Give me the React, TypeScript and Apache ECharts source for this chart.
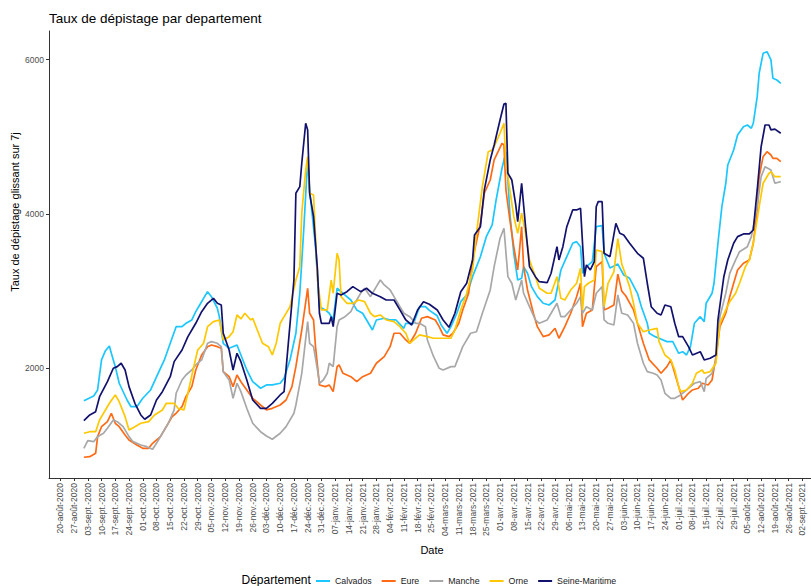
import React, { useEffect, useRef } from "react";
import * as echarts from "echarts";

// x values are day offsets from 20-août-2020 (first x tick)
const tickLabels = [
  "20-août-2020", "27-août-2020", "03-sept.-2020", "10-sept.-2020", "17-sept.-2020", "24-sept.-2020",
  "01-oct.-2020", "08-oct.-2020", "15-oct.-2020", "22-oct.-2020", "29-oct.-2020",
  "05-nov.-2020", "12-nov.-2020", "19-nov.-2020", "26-nov.-2020",
  "03-déc.-2020", "10-déc.-2020", "17-déc.-2020", "24-déc.-2020", "31-déc.-2020",
  "07-janv.-2021", "14-janv.-2021", "21-janv.-2021", "28-janv.-2021",
  "04-févr.-2021", "11-févr.-2021", "18-févr.-2021", "25-févr.-2021",
  "04-mars-2021", "11-mars-2021", "18-mars-2021", "25-mars-2021",
  "01-avr.-2021", "08-avr.-2021", "15-avr.-2021", "22-avr.-2021", "29-avr.-2021",
  "06-mai-2021", "13-mai-2021", "20-mai-2021", "27-mai-2021",
  "03-juin-2021", "10-juin-2021", "17-juin-2021", "24-juin-2021",
  "01-juil.-2021", "08-juil.-2021", "15-juil.-2021", "22-juil.-2021", "29-juil.-2021",
  "05-août-2021", "12-août-2021", "19-août-2021", "26-août-2021", "02-sept.-2021",
];
const tickDays = tickLabels.map((_, i) => i * 7);
const yTicks = [2000, 4000, 6000];
const yTickLabels = ["2000", "4000", "6000"];

const calvadosDays = [12,17,19,21,23,25,26,28,30,34,36,39,42,46,50,53,56,59,62,64,67,69,71,75,77,80,81,83,86,90,92,95,98,102,105,108,112,114,117,120,122,124,126,127,130,132,135,137,139,141,144,148,151,154,157,159,161,165,168,171,175,176,180,183,186,188,192,194,197,199,202,204,207,210,214,217,220,222,225,227,228,229,231,233,235,236,238,240,243,246,249,252,254,255,258,261,263,265,266,268,271,273,276,277,280,284,287,290,294,296,299,300,303,305,309,312,315,317,319,321,323,326,328,329,332,333,335,337,339,340,343,345,348,350,352,353,355,356,358,360,362,363,365,367];
const calvadosValues = [1580,1641,1719,2108,2228,2289,2194,2021,1806,1589,1502,1502,1611,1719,1943,2108,2324,2539,2539,2583,2626,2734,2820,2993,2928,2778,2669,2324,2259,2302,2172,1978,1827,1741,1784,1784,1806,1870,2108,2454,2972,3792,4700,4311,3576,2798,2756,2713,2626,3037,2972,2885,2756,2713,2583,2496,2626,2648,2626,2626,2518,2583,2583,2798,2798,2750,2680,2561,2454,2539,2713,2863,2950,3187,3446,3706,3857,4181,4592,4807,4440,4009,3490,3144,3166,3317,3231,3058,2928,2842,2820,2885,3144,3274,3446,3620,3641,3576,3231,3317,3382,3835,3848,3490,3300,3350,3209,3166,2972,2798,2583,2454,2410,2389,2345,2345,2194,2215,2172,2280,2583,2669,2604,2842,2972,3102,3620,4094,4398,4635,4829,5024,5131,5153,5110,5175,5520,5823,6082,6103,5996,5758,5736,5693];

const eureDays = [12,15,18,19,21,24,26,28,30,33,35,39,42,45,47,51,54,57,59,62,64,67,69,72,75,77,80,82,83,86,88,90,92,95,98,102,105,108,112,115,118,120,123,126,127,129,130,132,135,137,139,141,142,144,148,151,154,158,161,165,168,170,173,176,178,181,184,187,191,193,195,198,200,203,205,208,210,214,216,219,221,223,225,226,227,229,231,233,235,236,238,241,243,246,249,252,254,257,260,263,265,266,268,271,273,276,277,279,282,284,286,288,292,294,297,300,304,306,309,311,313,316,317,320,322,325,327,330,332,334,336,339,341,343,345,348,351,353,355,356,358,360,362,363,365,367];
const eureValues = [847,854,898,1114,1243,1308,1417,1287,1243,1136,1071,1006,963,963,1028,1114,1243,1373,1417,1503,1632,1762,1978,2172,2280,2302,2280,2259,1956,1891,1762,1913,1826,1719,1611,1524,1460,1481,1524,1589,1762,2021,2496,3037,2713,2626,2280,1784,1762,1784,1697,2021,2043,1935,1891,1826,1891,1935,2065,2151,2280,2454,2454,2367,2324,2454,2648,2669,2626,2539,2432,2410,2454,2583,2756,2972,3404,3879,4268,4440,4700,4807,4916,4894,4311,3922,3576,3274,3835,3317,3015,2713,2539,2410,2432,2518,2389,2539,2713,2928,3102,2539,2713,2756,3317,3382,2756,2778,2820,3220,3000,2940,2756,2583,2324,2108,2000,1935,2021,2108,1935,1676,1589,1676,1719,1741,1806,1784,1848,2151,2539,2713,2928,3102,3274,3361,3404,3620,4052,4483,4742,4807,4764,4721,4721,4678];

const mancheDays = [12,14,17,19,22,24,27,29,32,35,37,41,44,47,49,52,55,58,59,62,64,67,69,72,75,77,80,82,83,86,88,90,92,95,98,102,105,108,112,115,119,120,123,126,127,129,131,132,134,136,137,139,141,142,145,148,150,153,155,158,159,161,163,165,168,170,173,175,178,181,183,186,187,190,193,195,199,201,203,205,209,212,215,219,221,224,226,228,230,232,235,236,239,242,244,248,250,253,255,257,260,263,265,266,268,271,273,276,277,279,282,284,286,289,292,294,297,299,302,304,306,308,311,313,316,318,321,323,326,328,329,332,334,336,339,341,344,346,350,352,355,357,359,362,363,364,367];
const mancheValues = [963,1062,1049,1114,1158,1222,1330,1308,1243,1114,1049,1006,984,950,1028,1158,1287,1460,1676,1848,1913,1978,2043,2108,2324,2345,2324,2280,1956,1848,1611,1806,1697,1481,1287,1178,1123,1080,1158,1243,1417,1524,1935,2604,2324,2280,1978,1806,1848,1935,2065,2021,2539,2626,2669,2734,2842,2972,3037,2928,2972,3058,3144,3080,3015,2928,2798,2713,2669,2583,2583,2539,2367,2160,2000,1978,2021,2021,2151,2280,2454,2474,2713,3015,3317,3685,3815,3187,3102,2885,3144,2972,2798,2626,2583,2626,2713,2842,2669,2669,2756,2842,2928,2713,2798,2756,2972,3058,2626,2583,2561,2950,2713,2691,2583,2324,2065,1956,1935,1913,1848,1676,1611,1611,1654,1697,1762,1806,1827,1697,1870,1935,2108,2669,2972,3231,3404,3511,3576,3706,4094,4483,4613,4570,4483,4398,4419];

const orneDays = [12,15,18,20,23,25,28,30,33,35,38,41,45,48,52,54,58,60,63,65,68,70,73,75,78,81,83,86,88,90,92,94,97,98,101,103,106,108,110,112,114,117,120,122,123,125,126,127,129,130,131,133,136,138,139,141,142,143,146,149,152,155,158,160,163,166,170,173,176,178,180,183,187,190,193,199,201,204,207,210,212,215,218,220,221,224,226,227,229,231,233,235,237,239,242,244,248,250,253,255,257,260,263,265,266,267,269,272,273,276,277,279,282,284,286,288,290,292,294,297,300,304,305,308,311,313,315,316,319,322,324,327,328,331,334,336,339,341,344,346,349,351,353,356,358,361,362,364,367];
const orneValues = [1158,1178,1178,1330,1460,1546,1654,1567,1373,1200,1243,1287,1308,1395,1460,1546,1546,1481,1460,1676,2021,2237,2324,2539,2604,2626,2367,2410,2474,2691,2640,2713,2626,2648,2454,2324,2280,2172,2324,2583,2669,2798,3144,3317,4009,4570,4742,4268,4246,3706,3144,2756,2756,3144,2972,3490,3404,2928,2842,2842,2885,2863,2713,2669,2691,2626,2604,2539,2454,2324,2367,2432,2410,2389,2389,2389,2496,2756,2972,3274,3750,4354,4807,4829,4872,5046,5175,4657,4311,3965,3750,4009,3750,3404,3187,3037,2972,2972,3187,2907,2885,3015,3102,3296,2756,3058,3102,3144,3533,3511,2800,3100,3250,3680,3350,3209,3058,2842,2583,2474,2496,2518,2345,2172,2108,1978,1762,1697,1719,1806,1935,1978,1935,1956,2065,2583,2756,2863,2972,3102,3317,3404,3620,4094,4398,4527,4548,4483,4483];

const seineMaritimeDays = [12,15,18,20,24,27,29,31,33,35,38,41,43,46,49,52,56,58,62,65,69,72,75,78,80,82,83,86,88,90,92,95,98,102,105,108,112,114,116,119,120,122,123,125,126,127,129,131,132,133,137,138,139,141,143,146,149,153,156,159,163,166,170,173,176,179,182,185,188,192,195,198,201,204,207,210,211,214,216,219,221,224,226,227,228,230,232,233,235,237,239,242,244,248,250,253,254,256,258,261,263,265,267,268,270,272,273,274,276,277,280,283,285,287,290,294,297,299,301,304,306,308,311,313,315,317,320,322,326,328,331,334,335,338,340,343,345,348,351,353,355,357,359,361,362,364,367];
const seineMaritimeValues = [1321,1395,1438,1632,1826,2000,2021,2065,1978,1762,1546,1395,1339,1395,1589,1697,1891,2086,2237,2410,2583,2734,2842,2907,2842,2820,2454,2237,1978,2194,2086,1848,1589,1481,1481,1546,1654,1697,2280,3144,4268,4354,4657,5175,5089,4268,3965,3274,2713,2583,2583,2669,2539,2972,2950,2993,3058,2993,3037,2972,2928,2885,2885,2756,2626,2561,2756,2863,2830,2756,2626,2531,2713,2993,3102,3404,3728,3835,4311,4700,4894,5218,5425,5434,4527,4440,4117,3900,4398,3835,3317,3187,3122,3109,3231,3576,3404,3576,3835,4052,4052,4074,3187,3339,3274,3382,4094,4159,4159,3490,3446,3879,3750,3728,3620,3490,3426,3102,2798,2713,2691,2820,2798,2583,2410,2410,2280,2172,2215,2108,2130,2172,2626,3187,3404,3620,3706,3741,3741,3792,4311,4872,5153,5153,5089,5100,5046];

const seriesNames = ["Calvados", "Eure", "Manche", "Orne", "Seine-Maritime"];
const seriesColors = ["#1CC6FF", "#FF6A14", "#A8A8A8", "#FFC800", "#12126E"];
const seriesDays = [calvadosDays, eureDays, mancheDays, orneDays, seineMaritimeDays];
const seriesValues = [calvadosValues, eureValues, mancheValues, orneValues, seineMaritimeValues];

const FONT = "'Liberation Sans', Arial, sans-serif";

export default function App() {
  const ref = useRef<HTMLDivElement>(null);
  useEffect(() => {
    if (!ref.current) return;
    const chart = echarts.init(ref.current, null, { renderer: "svg" });
    const series = seriesNames.map((name, k) => ({
      name,
      type: "line",
      data: seriesDays[k].map((d, i) => [d, seriesValues[k][i]]),
      symbol: "none",
      showSymbol: false,
      silent: true,
      lineStyle: { width: 1.7, color: seriesColors[k] },
      itemStyle: { color: seriesColors[k] },
      z: 2 + k,
    }));
    chart.setOption({
      animation: false,
      grid: { left: 49, right: 0, top: 31, bottom: 108, containLabel: false },
      xAxis: {
        type: "value",
        min: -5.76,
        max: 382.4,
        axisLine: { show: true, onZero: false, lineStyle: { color: "#333333", width: 1 } },
        axisTick: { show: true, length: 3, customValues: tickDays, lineStyle: { color: "#333333" } },
        axisLabel: {
          customValues: tickDays,
          rotate: 90,
          margin: 5,
          fontSize: 8.5,
          color: "#4D4D4D",
          fontFamily: FONT,
          formatter: (v: number) => tickLabels[Math.round(v / 7)] ?? "",
        },
        splitLine: { show: false },
      },
      yAxis: {
        type: "value",
        min: 578,
        max: 6371,
        axisLine: { show: true, onZero: false, lineStyle: { color: "#333333", width: 1 } },
        axisTick: { show: true, length: 3, customValues: yTicks, lineStyle: { color: "#333333" } },
        axisLabel: {
          customValues: yTicks,
          margin: 5,
          fontSize: 8.5,
          color: "#4D4D4D",
          fontFamily: FONT,
          formatter: (v: number) => {
            const i = yTicks.indexOf(Math.round(v));
            return i >= 0 ? yTickLabels[i] : "";
          },
        },
        splitLine: { show: false },
      },
      legend: {
        show: true,
        data: seriesNames,
        left: 316,
        top: 575,
        orient: "horizontal",
        icon: "rect",
        itemWidth: 14,
        itemHeight: 2,
        itemGap: 10,
        padding: 0,
        textStyle: { fontSize: 8.8, color: "#1A1A1A", fontFamily: FONT, lineHeight: 12 },
      },
      graphic: [
        {
          type: "text",
          x: 49,
          y: 18,
          style: { text: "Taux de dépistage par departement", fill: "#000", fontSize: 13.5, fontFamily: FONT, align: "left", verticalAlign: "middle" },
        },
        {
          type: "text",
          x: 15,
          y: 212,
          rotation: Math.PI / 2,
          style: { text: "Taux de dépistage glissant sur 7j", fill: "#000", fontSize: 11, fontFamily: FONT, align: "center", verticalAlign: "middle" },
        },
        {
          type: "text",
          x: 432,
          y: 550,
          style: { text: "Date", fill: "#000", fontSize: 11, fontFamily: FONT, align: "center", verticalAlign: "middle" },
        },
        {
          type: "text",
          x: 241.5,
          y: 580,
          style: { text: "Département", fill: "#000", fontSize: 12, fontFamily: FONT, align: "left", verticalAlign: "middle" },
        },
      ],
      series,
    });
    return () => chart.dispose();
  }, []);
  return <div ref={ref} style={{ position: "absolute", left: 0, top: 0, width: 811, height: 586 }} />;
}
